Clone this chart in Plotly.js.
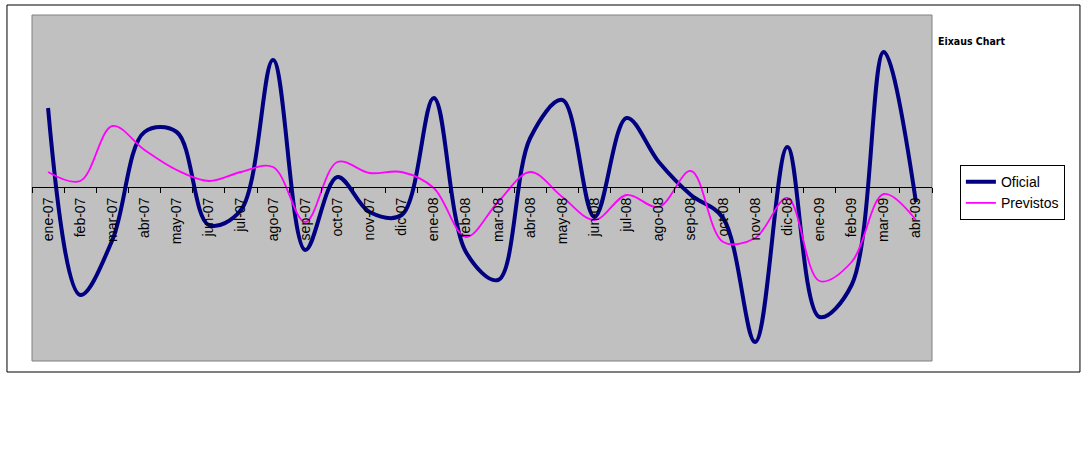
<!DOCTYPE html>
<html><head><meta charset="utf-8">
<script src="https://cdn.plot.ly/plotly-3.0.1.min.js"></script>
<style>html,body{margin:0;padding:0;background:#fff}#chart{width:1088px;height:450px}</style>
</head><body><div id="chart"></div>
<script>
var months = ["ene-07","feb-07","mar-07","abr-07","may-07","jun-07","jul-07","ago-07","sep-07","oct-07","nov-07","dic-07",
"ene-08","feb-08","mar-08","abr-08","may-08","jun-08","jul-08","ago-08","sep-08","oct-08","nov-08","dic-08",
"ene-09","feb-09","mar-09","abr-09"];
var oficial = [79,-108,-53,55,55,-38,-23,127,-63,10,-25,-28,89,-65,-93,49,87,-30,69,25,-8,-31,-155,40,-130,-98,135,-15];
var previstos = [15,6,61,37,17,6,15,20,-35,25,14,15,-1,-50,-15,15,-10,-33,-8,-20,16,-55,-51,-11,-94,-75,-7,-33];

var font = "Liberation Sans, Arial, sans-serif";
var data = [
  {x: months, y: oficial, type: 'scatter', mode: 'lines', name: 'Oficial',
   line: {color: '#000080', width: 4, shape: 'spline', smoothing: 1}},
  {x: months, y: previstos, type: 'scatter', mode: 'lines', name: 'Previstos',
   line: {color: '#ff00ff', width: 1.8, shape: 'spline', smoothing: 1}}
];
var layout = {
  width: 1088, height: 450,
  margin: {l: 32, r: 156, t: 15, b: 89, pad: 0},
  paper_bgcolor: '#ffffff', plot_bgcolor: '#c0c0c0',
  showlegend: true,
  legend: {x: 1.031, y: 0.566, xanchor: 'left', yanchor: 'top', bgcolor: '#ffffff',
    bordercolor: '#000000', borderwidth: 1, font: {family: font, size: 14, color: '#000'},
    tracegroupgap: 0, itemwidth: 30},
  xaxis: {type: 'category', range: [-0.5, 27.5], anchor: 'free', position: 0.5029,
    showline: true, linecolor: '#000', linewidth: 1, showgrid: false, zeroline: false,
    ticks: 'outside', ticklen: 5, tickcolor: '#000', tickson: 'boundaries', ticklabelstandoff: 4,
    tickangle: -90, tickfont: {family: font, size: 14, color: '#000'}},
  yaxis: {range: [-174, 172], visible: false, showgrid: false, zeroline: false, fixedrange: true},
  shapes: [
    {type: 'rect', xref: 'paper', yref: 'paper', x0: 0, x1: 1, y0: 0, y1: 1,
     line: {color: '#808080', width: 1}, layer: 'below'},
    {type: 'rect', xref: 'paper', yref: 'paper', x0: -0.0278, x1: 1.1644, y0: -0.0318, y1: 1.0289,
     line: {color: '#000000', width: 1}}
  ],
  annotations: [
    {text: '<b>Eixaus Chart</b>', xref: 'paper', yref: 'paper', x: 1.0045, y: 0.925,
     xanchor: 'left', yanchor: 'middle', showarrow: false,
     font: {family: 'DejaVu Sans Condensed, sans-serif', size: 10.5, color: '#000'}}
  ]
};
Plotly.newPlot('chart', data, layout, {displayModeBar: false, staticPlot: true});
</script></body></html>
